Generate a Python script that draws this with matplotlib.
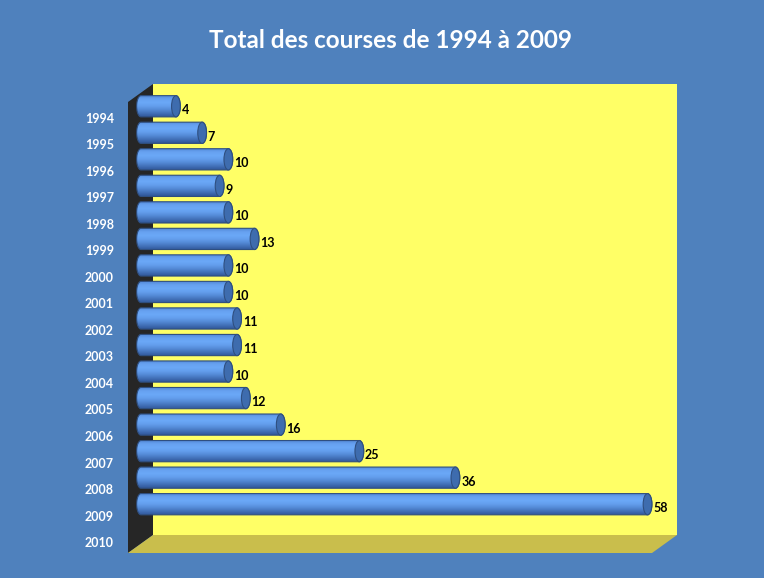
import numpy as np
import matplotlib
matplotlib.use('Agg')
import matplotlib.pyplot as plt
from matplotlib.patches import Polygon, Ellipse, Rectangle

years = ['1994', '1995', '1996', '1997', '1998', '1999', '2000', '2001', '2002',
         '2003', '2004', '2005', '2006', '2007', '2008', '2009', '2010']
courses = [4, 7, 10, 9, 10, 13, 10, 10, 11, 11, 10, 12, 16, 25, 36, 58]
title = 'Total des courses de 1994 à 2009'

W, H = 766, 580
BLUE = '#4F81BD'
font = ['Lato', 'DejaVu Sans']


def fpt(x, y):
    # pixel -> figure coords
    return (x / W, 1 - y / H)


fig = plt.figure(figsize=(W / 100, H / 100), dpi=100, facecolor='white')

# background (thin white border right/bottom like the original export)
fig.patches.append(Rectangle((0, 1 - 578 / H), 764 / W, 578 / H,
                             transform=fig.transFigure, facecolor=BLUE,
                             edgecolor='none', zorder=0))

# 3D frame: back wall, left wall, floor
back = [fpt(153, 84), fpt(677, 84), fpt(677, 535), fpt(153, 535)]
left = [fpt(128, 102), fpt(153, 84), fpt(153, 535), fpt(128, 553)]
floor = [fpt(128, 553), fpt(153, 535), fpt(677, 535), fpt(652, 553)]
for pts, col in [(back, '#FFFF66'), (left, '#262626'), (floor, '#C9BE4C')]:
    fig.patches.append(Polygon(pts, closed=True, transform=fig.transFigure,
                               facecolor=col, edgecolor='none', zorder=1))

# value axis 0..60 spans x=141..665 px; start a bit below 0 so the rounded
# left ends of the cylinders are not clipped
x0 = -0.6
ppu = 524 / 60
left_px = 141 + x0 * ppu
ax = fig.add_axes([left_px / W, 1 - 544 / H, (665 - left_px) / W, 451 / H])
ax.set_facecolor('none')
ax.set_zorder(2)

# cylinder shading, top -> bottom
grad = np.array([
    [0.32, 0.53, 0.84],
    [0.40, 0.63, 0.94],
    [0.42, 0.66, 0.97],
    [0.39, 0.62, 0.93],
    [0.33, 0.54, 0.84],
    [0.26, 0.44, 0.72],
    [0.19, 0.34, 0.60],
])
rows = np.linspace(0, 1, 60)
cols = np.stack([np.interp(rows, np.linspace(0, 1, len(grad)), grad[:, k])
                 for k in range(3)], axis=1)[:, None, :]

h = 0.80
a = 0.50
t = np.linspace(-np.pi / 2, np.pi / 2, 40)
for i, v in enumerate(courses):
    rx = v + a * np.cos(t)
    ry = i + h / 2 * np.sin(t)
    lx = 0 - a * np.cos(t[::-1])
    ly = i + h / 2 * np.sin(t[::-1])
    outline = np.column_stack([np.concatenate([rx, lx]), np.concatenate([ry, ly])])
    body = Polygon(outline, closed=True, transform=ax.transData,
                   facecolor='none', edgecolor='#2F4F80', lw=0.8, zorder=3)
    ax.add_patch(body)
    im = ax.imshow(cols, extent=(-a, v + a, i + h / 2, i - h / 2),
                   origin='upper', aspect='auto', zorder=2, interpolation='bilinear')
    im.set_clip_path(body)
    cap = Ellipse((v, i), 2 * a, h, facecolor='#3E6CAE', edgecolor='#2F4F80',
                  lw=0.8, zorder=4)
    ax.add_patch(cap)
    ax.text(v + a + 0.15, i + 0.15, str(v), ha='left', va='center',
            fontsize=9, fontweight='bold', color='black', family=font, zorder=5)

ax.set_xlim(x0, 60)
ax.set_ylim(len(years) - 0.5, -0.5)
ax.set_xticks([])
ax.set_yticks(np.arange(len(years)) + 0.43)
ax.set_yticklabels(years, fontsize=9, fontweight='bold', color='white', family=font)
ax.tick_params(axis='y', length=0, pad=(left_px - 114) * 0.72)
for s in ax.spines.values():
    s.set_visible(False)

fig.text(390.5 / W, 1 - 48 / H, title, ha='center', va='baseline',
         fontsize=17.5, fontweight='bold', color='white', family=font)

fig.savefig('out.png', dpi=100, facecolor=fig.get_facecolor())
